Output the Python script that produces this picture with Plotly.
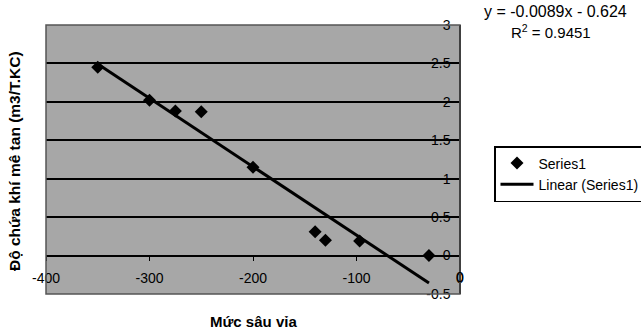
import plotly.graph_objects as go

# Data
depth = [-350, -300, -275, -250, -200, -140, -130, -97, -30]
gas = [2.45, 2.02, 1.88, 1.87, 1.15, 0.31, 0.20, 0.19, 0.0]

# Linear trendline coefficients as printed on the chart
slope = -0.0089
intercept = -0.624
r_squared = 0.9451

trend_x = [min(depth), max(depth)]
trend_y = [slope * v + intercept for v in trend_x]

x_ticks = [-400, -300, -200, -100, 0]
y_ticks = [-0.5, 0, 0.5, 1, 1.5, 2, 2.5, 3]

FONT = "Liberation Sans, Arial, sans-serif"

W, H = 641, 329
L, R, T, B = 46, 181, 25, 35
PW, PH = W - L - R, H - T - B

fig = go.Figure()
fig.add_trace(go.Scatter(
    x=depth, y=gas, mode="markers", name="Series1",
    marker=dict(symbol="diamond", size=10, color="black"),
))
fig.add_trace(go.Scatter(
    x=trend_x, y=trend_y, mode="lines", name="Linear (Series1)",
    line=dict(color="black", width=3),
))

yr = [-0.5, 3]
x_axis_pos = (0 - yr[0]) / (yr[1] - yr[0])

annotations = [
    dict(text=f"y = {slope}x - {abs(intercept)}", xref="paper", yref="paper",
         x=(555 - L) / PW, y=(H - B - 12) / PH,
         showarrow=False, xanchor="center", yanchor="middle",
         font=dict(family=FONT, size=16, color="black")),
    dict(text=f"R<sup>2</sup> = {r_squared}", xref="paper", yref="paper",
         x=(551 - L) / PW, y=(H - B - 32) / PH,
         showarrow=False, xanchor="center", yanchor="middle",
         font=dict(family=FONT, size=15, color="black")),
    dict(text="<b>Độ chứa khí mê tan (m3/T.KC)</b>", xref="paper", yref="paper",
         x=(14 - L) / PW, y=(H - B - 161) / PH,
         textangle=-90, showarrow=False, xanchor="center", yanchor="middle",
         font=dict(family=FONT, size=15.5, color="black")),
    dict(text="<b>Mức sâu vỉa</b>", xref="paper", yref="paper",
         x=(253 - L) / PW, y=(H - B - 322) / PH,
         showarrow=False, xanchor="center", yanchor="middle",
         font=dict(family=FONT, size=15, color="black")),
]
# the last x tick label sits on the crossing y axis; plotly drops it, so add it as text
annotations.append(dict(
    text=str(x_ticks[-1]), xref="x", yref="paper", x=x_ticks[-1], y=(H - B - 277) / PH,
    showarrow=False, xanchor="center", yanchor="middle",
    font=dict(family=FONT, size=14, color="black")))

fig.update_layout(
    width=W, height=H,
    margin=dict(l=L, r=R, t=T, b=B, autoexpand=False),
    paper_bgcolor="white",
    plot_bgcolor="#a7a7a7",
    font=dict(family=FONT, size=14, color="black"),
    showlegend=True,
    legend=dict(
        x=(494 - L) / PW, y=(H - B - 146) / PH,
        xanchor="left", yanchor="top",
        bordercolor="black", borderwidth=1.5, bgcolor="white",
        font=dict(family=FONT, size=14, color="black"),
        itemwidth=33,
        tracegroupgap=2,
    ),
    xaxis=dict(
        range=[-400, 0], tickvals=x_ticks, ticktext=[str(v) for v in x_ticks],
        anchor="free", position=x_axis_pos,
        showgrid=False, zeroline=False,
        showline=False, ticks="outside", ticklen=4, tickcolor="black",
        ticklabelstandoff=6, ticklabeloverflow="allow",
        tickfont=dict(family=FONT, size=14, color="black"),
    ),
    yaxis=dict(
        range=yr, tickvals=y_ticks, ticktext=[f"{v:g}" for v in y_ticks],
        side="left", anchor="free", position=1,
        ticklabelposition="outside", ticklabeloverflow="allow",
        ticklabelstandoff=6,
        showgrid=True, gridcolor="black", gridwidth=1.5,
        zeroline=False, showline=True, linecolor="black", linewidth=1.5,
        ticks="",
        tickfont=dict(family=FONT, size=14, color="black"),
    ),
    shapes=[dict(type="rect", xref="paper", yref="paper", x0=0, x1=1, y0=0, y1=1,
                 line=dict(color="#555555", width=1.5), layer="above")],
    annotations=annotations,
)

fig.write_html("out.html")
